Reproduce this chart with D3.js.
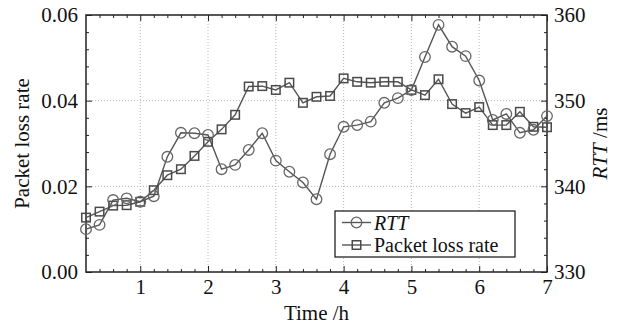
<!DOCTYPE html>
<html>
<head>
<meta charset="utf-8">
<script src="https://cdn.jsdelivr.net/npm/d3@7"></script>
<style>
  body { margin: 0; background: #fff; }
  svg { display: block; font-family: "Liberation Serif", "Times New Roman", Times, serif; }
</style>
</head>
<body>
<svg id="chart" width="618" height="327"></svg>
<script>
// ---- data ----
const times = [0.2,0.4,0.6,0.8,1.0,1.2,1.4,1.6,1.8,2.0,2.2,2.4,2.6,2.8,3.0,3.2,3.4,3.6,3.8,4.0,4.2,4.4,4.6,4.8,5.0,5.2,5.4,5.6,5.8,6.0,6.2,6.4,6.6,6.8,7.0];
const rttMs = [335.0,335.5,338.4,338.6,338.2,338.85,343.45,346.25,346.2,346.0,342.0,342.5,344.25,346.2,343.0,341.7,340.45,338.5,343.75,346.95,347.15,347.55,349.75,350.3,351.25,355.1,358.85,356.3,355.2,352.35,347.75,348.45,346.25,346.6,348.2];
const lossRate = [0.0127,0.0141,0.0155,0.0156,0.0164,0.0191,0.0226,0.0240,0.0271,0.0304,0.0333,0.0367,0.0433,0.0434,0.0425,0.0442,0.0395,0.0409,0.0411,0.0452,0.0444,0.0442,0.0444,0.0444,0.0425,0.0413,0.0450,0.0392,0.0371,0.0385,0.0343,0.0343,0.0374,0.0339,0.0338];
const xTicks = [1,2,3,4,5,6,7];
const leftTicks = [0, 0.02, 0.04, 0.06];
const rightTicks = [330, 340, 350, 360];
const xLabel = "Time /h";
const leftLabel = "Packet loss rate";
const legendLabels = ["RTT", "Packet loss rate"];

// ---- layout ----
const W = 618, H = 327;
const m = {left: 86, right: 71, top: 15, bottom: 55};
const iw = W - m.left - m.right, ih = H - m.top - m.bottom;
const FS = 21;
const LFS = 20;
const FF = "'Liberation Serif', 'Times New Roman', Times, serif";

const svg = d3.select("#chart");
const g = svg.append("g").attr("transform", `translate(${m.left},${m.top})`);

const x = d3.scaleLinear().domain([0.2, 7]).range([0, iw]);
const yL = d3.scaleLinear().domain([0, 0.06]).range([ih, 0]);
const yR = d3.scaleLinear().domain([330, 360]).range([ih, 0]);

// grid lines
const gridColor = "#b8b8b8";
g.append("g").selectAll("line").data(xTicks.filter(t => t < 7)).join("line")
  .attr("x1", d => x(d)).attr("x2", d => x(d)).attr("y1", 0).attr("y2", ih)
  .attr("stroke", gridColor).attr("stroke-width", 1).attr("stroke-dasharray", "1,2");
g.append("g").selectAll("line").data(leftTicks.filter(t => t > 0 && t < 0.06)).join("line")
  .attr("y1", d => yL(d)).attr("y2", d => yL(d)).attr("x1", 0).attr("x2", iw)
  .attr("stroke", gridColor).attr("stroke-width", 1).attr("stroke-dasharray", "1,2");

// minor tick values
const xMinor = d3.range(0.4, 7.0001, 0.2).filter(v => Math.abs(v - Math.round(v)) > 1e-6);
const lMinor = d3.range(0.004, 0.06, 0.004).filter(v => Math.abs(v/0.02 - Math.round(v/0.02)) > 1e-6);
const rMinor = d3.range(332, 360, 2).filter(v => v % 10 !== 0);

function styleAxis(sel) {
  sel.select(".domain").remove();
  sel.selectAll("line").attr("stroke", "#222").attr("stroke-width", 1);
  sel.selectAll("text").attr("font-size", FS).attr("fill", "#111").attr("font-family", FF);
}

// bottom axis
g.append("g").attr("transform", `translate(0,${ih})`)
  .call(d3.axisBottom(x).tickValues(xTicks).tickSize(-6).tickPadding(7).tickFormat(d3.format("d")))
  .call(styleAxis);
g.append("g").attr("transform", `translate(0,${ih})`)
  .call(d3.axisBottom(x).tickValues(xMinor).tickSize(-3).tickFormat(""))
  .call(styleAxis);
// top axis
g.append("g")
  .call(d3.axisTop(x).tickValues(xTicks).tickSize(-6).tickFormat(""))
  .call(styleAxis);
g.append("g")
  .call(d3.axisTop(x).tickValues(xMinor).tickSize(-3).tickFormat(""))
  .call(styleAxis);
// left axis
g.append("g")
  .call(d3.axisLeft(yL).tickValues(leftTicks).tickSize(-6).tickPadding(8).tickFormat(d3.format(".2f")))
  .call(styleAxis);
g.append("g")
  .call(d3.axisLeft(yL).tickValues(lMinor).tickSize(-3).tickFormat(""))
  .call(styleAxis);
// right axis
g.append("g").attr("transform", `translate(${iw},0)`)
  .call(d3.axisRight(yR).tickValues(rightTicks).tickSize(-6).tickPadding(7).tickFormat(d3.format("d")))
  .call(styleAxis);
g.append("g").attr("transform", `translate(${iw},0)`)
  .call(d3.axisRight(yR).tickValues(rMinor).tickSize(-3).tickFormat(""))
  .call(styleAxis);

// frame
g.append("rect").attr("x", 0).attr("y", 0).attr("width", iw).attr("height", ih)
  .attr("fill", "none").attr("stroke", "#222").attr("stroke-width", 1.5);

// series
const lineColor = "#555";
const circColor = "#666";
const sqColor = "#4a4a4a";
const R = 5.3, S = 8.5;

const rttLine = d3.line().x((d, i) => x(times[i])).y(d => yR(d));
const lossLine = d3.line().x((d, i) => x(times[i])).y(d => yL(d));

g.append("path").datum(lossRate).attr("d", lossLine)
  .attr("fill", "none").attr("stroke", lineColor).attr("stroke-width", 1.4);
g.append("path").datum(rttMs).attr("d", rttLine)
  .attr("fill", "none").attr("stroke", lineColor).attr("stroke-width", 1.4);

g.append("g").selectAll("rect").data(lossRate).join("rect")
  .attr("x", (d, i) => x(times[i]) - S/2).attr("y", d => yL(d) - S/2)
  .attr("width", S).attr("height", S)
  .attr("fill", "none").attr("stroke", sqColor).attr("stroke-width", 1.5);
g.append("g").selectAll("circle").data(rttMs).join("circle")
  .attr("cx", (d, i) => x(times[i])).attr("cy", d => yR(d)).attr("r", R)
  .attr("fill", "none").attr("stroke", circColor).attr("stroke-width", 1.3);

// axis titles
svg.append("text").attr("x", m.left + iw/2).attr("y", 320).attr("text-anchor", "middle")
  .attr("font-family", FF).attr("font-size", FS).attr("fill", "#111").text(xLabel);
svg.append("text").attr("transform", `translate(29,${m.top + ih/2}) rotate(-90)`)
  .attr("text-anchor", "middle").attr("font-family", FF).attr("font-size", FS).attr("fill", "#111").text(leftLabel);
const rt = svg.append("text").attr("transform", `translate(607,${m.top + ih/2}) rotate(-90)`)
  .attr("text-anchor", "middle").attr("font-family", FF).attr("font-size", FS).attr("fill", "#111");
rt.append("tspan").attr("font-style", "italic").text("RTT");
rt.append("tspan").text(" /ms");

// legend
const lg = svg.append("g").attr("transform", "translate(335,211)");
lg.append("rect").attr("width", 180).attr("height", 46)
  .attr("fill", "#fff").attr("stroke", "#111").attr("stroke-width", 1.2);
const rows = [{y: 11.5, type: "c", label: legendLabels[0], italic: true},
              {y: 34, type: "s", label: legendLabels[1], italic: false}];
rows.forEach(r => {
  lg.append("line").attr("x1", 7).attr("x2", 36).attr("y1", r.y).attr("y2", r.y)
    .attr("stroke", lineColor).attr("stroke-width", 1.4);
  if (r.type === "c") {
    lg.append("circle").attr("cx", 21.5).attr("cy", r.y).attr("r", R)
      .attr("fill", "none").attr("stroke", circColor).attr("stroke-width", 1.3);
  } else {
    lg.append("rect").attr("x", 21.5 - S/2).attr("y", r.y - S/2).attr("width", S).attr("height", S)
      .attr("fill", "none").attr("stroke", sqColor).attr("stroke-width", 1.5);
  }
  lg.append("text").attr("x", 39).attr("y", r.y).attr("dy", "0.35em")
    .attr("font-family", FF).attr("font-size", LFS).attr("fill", "#111")
    .attr("font-style", r.italic ? "italic" : "normal").text(r.label);
});
</script>
</body>
</html>
